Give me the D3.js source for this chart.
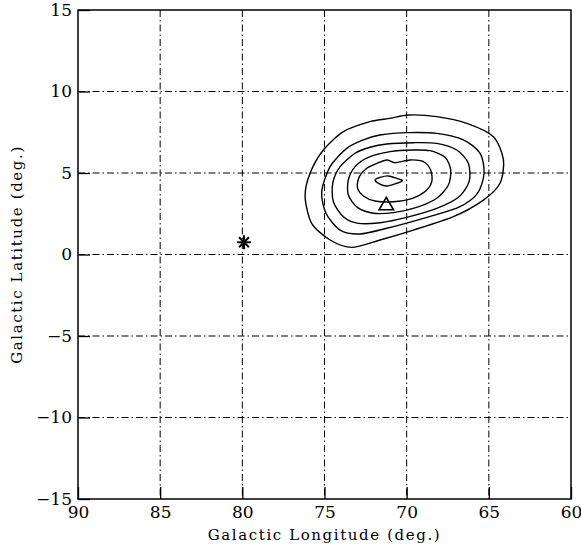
<!DOCTYPE html>
<html><head><meta charset="utf-8">
<script src="https://cdn.jsdelivr.net/npm/d3@7"></script>
<style>body{margin:0;background:#fff}</style>
</head><body>
<script>
const xTicks = [90, 85, 80, 75, 70, 65, 60];
const yTicks = [-15, -10, -5, 0, 5, 10, 15];
// contour rings [longitude, latitude]
const ring1 = [[69.89,8.56],[68.17,8.46],[66.34,8.05],[64.72,7.23],[64.11,5.80],[64.32,4.37],[65.33,3.34],[67.16,2.32],[69.59,1.50],[71.62,0.89],[73.34,0.44],[74.66,0.89],[75.78,1.91],[76.18,3.55],[75.88,4.98],[75.07,6.41],[73.85,7.54],[72.23,8.15],[71.01,8.35]];
const ring2 = [[71.62,7.33],[69.89,7.48],[68.17,7.43],[66.55,7.03],[65.53,6.21],[65.29,4.98],[65.69,3.75],[66.85,2.89],[68.98,2.22],[71.21,1.61],[72.84,1.26],[74.05,1.50],[74.91,2.53],[75.17,3.86],[74.66,5.39],[73.65,6.51],[72.63,7.03]];
const ring3 = [[71.21,6.78],[69.59,6.86],[68.17,6.82],[66.95,6.41],[66.24,5.59],[66.20,4.47],[66.85,3.51],[68.17,2.83],[70.00,2.28],[71.62,1.95],[72.94,1.91],[73.85,2.32],[74.46,3.24],[74.50,4.37],[74.05,5.39],[73.14,6.21],[72.23,6.58]];
const ring4 = [[71.01,6.31],[69.59,6.41],[68.58,6.37],[67.66,5.96],[67.32,5.19],[67.46,4.26],[68.17,3.45],[69.39,2.89],[70.81,2.57],[72.02,2.53],[73.00,2.89],[73.55,3.65],[73.55,4.57],[73.14,5.39],[72.33,5.96]];
const ring5 = [[71.82,5.59],[71.21,5.80],[70.71,5.63],[69.79,5.80],[68.98,5.70],[68.54,5.19],[68.47,4.47],[68.88,3.86],[69.69,3.43],[70.81,3.24],[71.92,3.28],[72.63,3.59],[73.00,4.12],[72.88,4.78],[72.43,5.29]];
const ring6 = [[71.92,4.57],[71.62,4.73],[71.11,4.82],[70.60,4.67],[70.26,4.53],[70.71,4.33],[71.21,4.20],[71.66,4.33]];
const rings = [ring1, ring2, ring3, ring4, ring5, ring6];
const triangle = [71.24, 3.0];
const star = [79.9, 0.75];

const W = 581, H = 546;
const L = 78, R = 571, T = 10, B = 499;
const svg = d3.select("body").append("svg").attr("width", W).attr("height", H);
const x = d3.scaleLinear().domain([90, 60]).range([L, R]);
const y = d3.scaleLinear().domain([-15, 15]).range([B, T]);
const font = "'DejaVu Serif', 'Liberation Serif', serif";

// grid
const dash = "7,3,1.5,3";
const g = svg.append("g").attr("stroke", "#000").attr("stroke-width", 1).attr("fill", "none");
g.selectAll(".vg").data(xTicks.slice(1, -1)).join("line")
  .attr("x1", d => x(d)).attr("x2", d => x(d)).attr("y1", T).attr("y2", B)
  .attr("stroke-dasharray", dash);
g.selectAll(".hg").data(yTicks.slice(1, -1)).join("line")
  .attr("y1", d => y(d)).attr("y2", d => y(d)).attr("x1", L).attr("x2", R)
  .attr("stroke-dasharray", dash);

// axes
const xAxis = d3.axisBottom(x).tickValues(xTicks).tickSize(-12).tickPadding(18).tickFormat(d3.format("d"));
const yAxis = d3.axisLeft(y).tickValues(yTicks).tickSize(-12).tickPadding(6).tickFormat(d => d < 0 ? "\u2212" + Math.abs(d) : d);
const xa = svg.append("g").attr("transform", `translate(0,${B})`).call(xAxis);
const ya = svg.append("g").attr("transform", `translate(${L},0)`).call(yAxis);
[xa, ya].forEach(a => {
  a.select(".domain").remove();
  a.selectAll("text").attr("font-family", font).attr("font-size", 17).attr("fill", "#000");
  a.selectAll("line").attr("stroke", "#000").attr("stroke-width", 1.3);
});
xa.selectAll("text").attr("dy", "0.71em").attr("y", 7);

svg.append("rect").attr("x", L).attr("y", T).attr("width", R - L).attr("height", B - T)
  .attr("fill", "none").attr("stroke", "#000").attr("stroke-width", 1.5);

// contours
const line = d3.line().x(d => x(d[0])).y(d => y(d[1])).curve(d3.curveCardinalClosed.tension(0.2));
svg.append("g").selectAll("path").data(rings).join("path")
  .attr("d", line).attr("fill", "none").attr("stroke", "#000").attr("stroke-width", 1.4);

// triangle
const tri = d3.symbol().type(d3.symbolTriangle).size(90);
svg.append("path").attr("d", tri()).attr("transform", `translate(${x(triangle[0])},${y(triangle[1])})`)
  .attr("fill", "none").attr("stroke", "#000").attr("stroke-width", 1.6);

// star (asterisk)
const sg = svg.append("g").attr("transform", `translate(${x(star[0])},${y(star[1])})`)
  .attr("stroke", "#000").attr("stroke-width", 2);
[0, 45, 90, 135].forEach(a => {
  const r = 7, rad = a * Math.PI / 180;
  sg.append("line").attr("x1", -r * Math.cos(rad)).attr("y1", -r * Math.sin(rad))
    .attr("x2", r * Math.cos(rad)).attr("y2", r * Math.sin(rad));
});

// labels
svg.append("text").attr("x", (L + R) / 2).attr("y", 540).attr("text-anchor", "middle")
  .attr("font-family", font).attr("font-size", 15).attr("letter-spacing", 1.6)
  .text("Galactic Longitude (deg.)");
svg.append("text").attr("transform", `translate(22,${(T + B) / 2}) rotate(-90)`).attr("text-anchor", "middle")
  .attr("font-family", font).attr("font-size", 15).attr("letter-spacing", 1.6)
  .text("Galactic Latitude (deg.)");
</script>
</body></html>
